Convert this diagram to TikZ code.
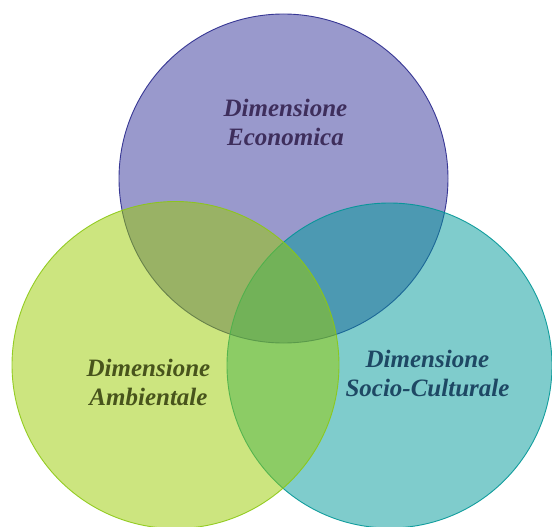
\documentclass[tikz,border=0pt]{standalone}
\usepackage{fontspec}
\setmainfont{Liberation Serif}
\definecolor{ecofill}{RGB}{51,51,153}
\definecolor{ecoline}{RGB}{40,40,140}
\definecolor{ambfill}{RGB}{153,204,0}
\definecolor{ambline}{RGB}{140,200,20}
\definecolor{socfill}{RGB}{0,153,153}
\definecolor{socline}{RGB}{0,150,150}
\definecolor{ecotext}{RGB}{62,46,92}
\definecolor{ambtext}{RGB}{72,84,28}
\definecolor{soctext}{RGB}{30,72,100}
\tikzset{
  setcircle/.style={circle, inner sep=0pt, line width=0.9pt, fill opacity=0.5, draw opacity=0.9},
  setlabel/.style={align=center, inner sep=0pt, font=\fontsize{25}{29}\selectfont\bfseries\itshape}
}
\begin{document}
\begin{tikzpicture}[x=1pt,y=-1pt]
\useasboundingbox (0,0) rectangle (552,527);
\node[setcircle, minimum size=329pt, fill=ecofill, draw=ecoline] (eco) at (283.5,178.5) {};
\node[setcircle, minimum size=325pt, fill=socfill, draw=socline] (soc) at (389.5,365.5) {};
\node[setcircle, minimum size=327pt, fill=ambfill, draw=ambline] (amb) at (175.5,365) {};
\node[setlabel, text=ecotext] (ecolabel) at (285.5,122.5) {Dimensione\\Economica};
\node[setlabel, text=ambtext] (amblabel) at (148.5,382.5) {Dimensione\\Ambientale};
\node[setlabel, text=soctext] (soclabel) at (427.5,373.5) {Dimensione\\Socio-Culturale};
\end{tikzpicture}
\end{document}
